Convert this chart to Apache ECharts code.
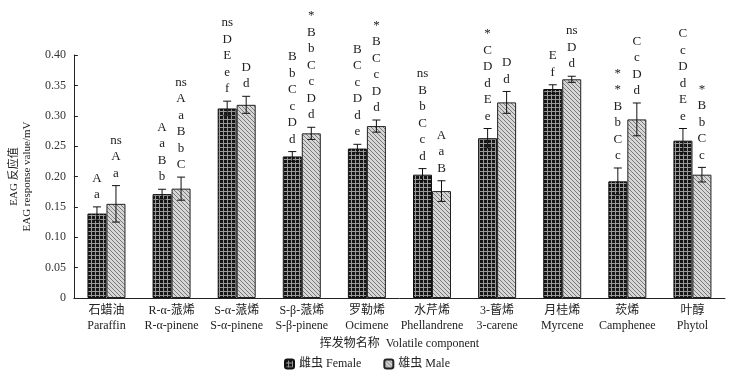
<!DOCTYPE html>
<html>
<head>
<meta charset="utf-8">
<script src="https://cdn.jsdelivr.net/npm/echarts@6/dist/echarts.min.js"></script>
<style>
  html, body { margin: 0; padding: 0; background: #fff; }
  #chart { width: 734px; height: 376px; }
</style>
</head>
<body>
<div id="chart"></div>
<script>
// 挥发物名称
var categoriesCn = ['石蜡油', 'R-α-蒎烯', 'S-α-蒎烯', 'S-β-蒎烯', '罗勒烯', '水芹烯', '3-蒈烯', '月桂烯', '莰烯', '叶醇'];
var categoriesEn = ['Paraffin', 'R-α-pinene', 'S-α-pinene', 'S-β-pinene', 'Ocimene', 'Phellandrene', '3-carene', 'Myrcene', 'Camphenee', 'Phytol'];

// 雌虫 EAG 反应值 及误差
var female = [0.139, 0.171, 0.312, 0.233, 0.246, 0.203, 0.263, 0.344, 0.192, 0.259];
var femaleErr = [0.011, 0.008, 0.012, 0.008, 0.007, 0.010, 0.016, 0.007, 0.022, 0.020];
// 雄虫
var male = [0.155, 0.180, 0.318, 0.271, 0.283, 0.176, 0.322, 0.360, 0.294, 0.203];
var maleErr = [0.030, 0.019, 0.014, 0.010, 0.010, 0.017, 0.018, 0.005, 0.027, 0.012];

// 显著性字母 (从上到下)
var femaleMarks = ['A\na', 'A\na\nB\nb', 'ns\nD\nE\ne\nf', 'B\nb\nC\nc\nD\nd', 'B\nC\nc\nD\nd\ne',
    'ns\nB\nb\nC\nc\nd', '*\nC\nD\nd\nE\ne', 'E\nf', '*\n*\nB\nb\nC\nc', 'C\nc\nD\nd\nE\ne'];
var maleMarks = ['ns\nA\na', 'ns\nA\na\nB\nb\nC', 'D\nd', '*\nB\nb\nC\nc\nD\nd', '*\nB\nC\nc\nD\nd',
    'A\na\nB', 'D\nd', 'ns\nD\nd', 'C\nc\nD\nd', '*\nB\nb\nC\nc'];

var yTicks = [0, 0.05, 0.10, 0.15, 0.20, 0.25, 0.30, 0.35, 0.40];

var SERIF = "'Liberation Serif', 'Noto Sans CJK SC', serif";
var BAR_W = 19;

//填充图案
function makePattern(type) {
    var c = document.createElement('canvas');
    c.width = 4; c.height = 4;
    var ctx = c.getContext('2d');
    if (type === 'grid') {
        ctx.fillStyle = '#161616';
        ctx.fillRect(0, 0, 4, 4);
        ctx.fillStyle = '#9a9a9a';
        ctx.fillRect(3, 0, 1, 4);
        ctx.fillRect(0, 3, 4, 1);
    } else {
        ctx.fillStyle = '#d6d6d6';
        ctx.fillRect(0, 0, 4, 4);
        ctx.fillStyle = '#7a7a7a';
        for (var i = 0; i < 4; i++) ctx.fillRect(i, i, 1, 1);
    }
    return c;
}
var femaleFill = {image: makePattern('grid'), repeat: 'repeat'};
var maleFill = {image: makePattern('hatch'), repeat: 'repeat'};

function errData(vals, errs) {
    return vals.map(function (v, i) { return [i, v, errs[i]]; });
}

function errRender(side, marks) {
    return function (params, api) {
        var i = api.value(0);
        var v = api.value(1);
        var e = api.value(2);
        var top = api.coord([i, v + e]);
        var bot = api.coord([i, v - e]);
        var x = top[0] + side * BAR_W / 2;
        var cap = 4;
        var st = {stroke: '#111', lineWidth: 1};
        return {
            type: 'group',
            children: [
                {type: 'line', shape: {x1: x, y1: top[1], x2: x, y2: bot[1]}, style: st},
                {type: 'line', shape: {x1: x - cap, y1: top[1], x2: x + cap, y2: top[1]}, style: st},
                {type: 'line', shape: {x1: x - cap, y1: bot[1], x2: x + cap, y2: bot[1]}, style: st},
                {
                    type: 'text',
                    style: {
                        text: marks[params.dataIndex],
                        x: x,
                        y: top[1] - 4,
                        align: 'center',
                        verticalAlign: 'bottom',
                        font: '13px ' + SERIF,
                        lineHeight: 16.5,
                        fill: '#222'
                    }
                }
            ]
        };
    };
}

var chart = echarts.init(document.getElementById('chart'));
chart.setOption({
    animation: false,
    backgroundColor: '#fff',
    grid: {left: 65, right: 9, top: 55, bottom: 78},
    legend: {
        bottom: 1,
        left: 'center',
        itemWidth: 9,
        itemHeight: 9,
        itemGap: 22,
        textStyle: {fontFamily: SERIF, fontSize: 12, color: '#222'},
        data: ['雌虫 Female', '雄虫 Male']
    },
    xAxis: {
        type: 'category',
        data: categoriesCn.map(function (c, i) { return c + '\n' + categoriesEn[i]; }),
        name: '挥发物名称  Volatile component',
        nameLocation: 'middle',
        nameGap: 40,
        nameTextStyle: {fontFamily: SERIF, fontSize: 12, color: '#222'},
        axisLine: {lineStyle: {color: '#222', width: 1}},
        axisTick: {inside: true, length: 4, lineStyle: {color: '#222'}},
        axisLabel: {
            interval: 0,
            margin: 5,
            fontFamily: SERIF,
            fontSize: 12,
            lineHeight: 15,
            color: '#222'
        }
    },
    yAxis: {
        type: 'value',
        min: 0,
        max: 0.4,
        interval: 0.05,
        name: 'EAG 反应值\nEAG response value/mV',
        nameLocation: 'middle',
        nameGap: 27,
        nameTextStyle: {fontFamily: SERIF, fontSize: 11, color: '#222', lineHeight: 13},
        splitLine: {show: false},
        axisLine: {show: true, lineStyle: {color: '#222', width: 1}},
        axisTick: {show: true, inside: true, length: 4, lineStyle: {color: '#222'}},
        axisLabel: {
            fontFamily: SERIF,
            fontSize: 12,
            color: '#333',
            margin: 8,
            formatter: function (v) {
                var t = yTicks.filter(function (k) { return Math.abs(k - v) < 1e-9; })[0];
                return t === 0 ? '0' : t.toFixed(2);
            }
        }
    },
    series: [
        {
            name: '雌虫 Female',
            type: 'bar',
            data: female,
            barWidth: BAR_W,
            barGap: '0%',
            itemStyle: {color: femaleFill, borderColor: '#111', borderWidth: 1}
        },
        {
            name: '雄虫 Male',
            type: 'bar',
            data: male,
            barWidth: BAR_W,
            barGap: '0%',
            itemStyle: {color: maleFill, borderColor: '#222', borderWidth: 1}
        },
        {
            type: 'custom',
            renderItem: errRender(-1, femaleMarks),
            data: errData(female, femaleErr),
            z: 5
        },
        {
            type: 'custom',
            renderItem: errRender(1, maleMarks),
            data: errData(male, maleErr),
            z: 5
        }
    ]
});
</script>
</body>
</html>
